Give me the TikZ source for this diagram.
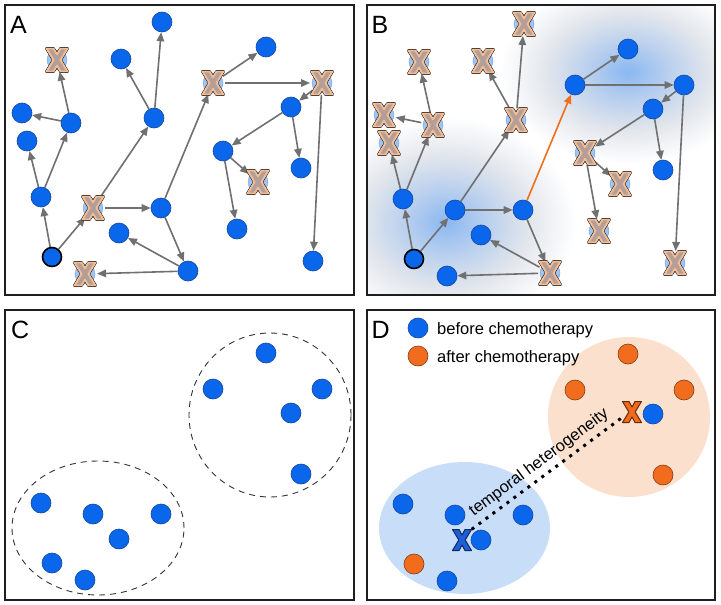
\documentclass[tikz,border=0pt]{standalone}
\usepackage{fontspec}
\setmainfont{Liberation Sans}
\usetikzlibrary{arrows.meta,calc}

\definecolor{nodeblue}{RGB}{10,102,235}
\definecolor{nodeedge}{RGB}{20,70,160}
\definecolor{xcirc}{RGB}{160,196,242}
\definecolor{xcircedge}{RGB}{120,160,220}
\definecolor{xmauve}{RGB}{180,158,152}
\definecolor{xpeach}{RGB}{242,188,148}
\definecolor{edgegray}{RGB}{112,112,112}
\definecolor{arrorange}{RGB}{240,110,30}
\definecolor{dotorange}{RGB}{242,108,30}
\definecolor{dotorangeedge}{RGB}{130,60,20}
\definecolor{ellblue}{RGB}{200,221,248}
\definecolor{ellorange}{RGB}{251,225,205}
\definecolor{glowA}{RGB}{138,184,242}
\definecolor{glowB}{RGB}{186,208,238}
\definecolor{glowC}{RGB}{226,230,236}
\definecolor{framecol}{RGB}{30,30,30}
\definecolor{bxfill}{RGB}{30,95,214}
\definecolor{bxedge}{RGB}{13,42,102}
\definecolor{oxfill}{RGB}{238,106,28}
\definecolor{oxedge}{RGB}{107,42,5}

\pgfdeclareradialshading{glow}{\pgfpoint{0bp}{0bp}}{color(0bp)=(glowA); color(8bp)=(glowB); color(16bp)=(glowC); color(25bp)=(white); color(50bp)=(white)}

\tikzset{
  xglyph/.pic={
    \path[draw=black, line width=2.8pt, line join=round]
      (-10.5,-11.5)--(-3.5,-11.5)--(0,-5.75)--(3.5,-11.5)--(10.5,-11.5)--(3.5,0)--(10.5,11.5)--(3.5,11.5)--(0,5.75)--(-3.5,11.5)--(-10.5,11.5)--(-3.5,0)--cycle;
    \path[fill=xmauve, draw=xpeach, line width=1.9pt, line join=round]
      (-10.5,-11.5)--(-3.5,-11.5)--(0,-5.75)--(3.5,-11.5)--(10.5,-11.5)--(3.5,0)--(10.5,11.5)--(3.5,11.5)--(0,5.75)--(-3.5,11.5)--(-10.5,11.5)--(-3.5,0)--cycle;
  },
  bluex/.pic={
    \path[fill=bxfill, draw=bxedge, line width=1pt, line join=round]
      (-9.5,-10.5)--(-3,-10.5)--(0,-5)--(3,-10.5)--(9.5,-10.5)--(3.2,0)--(9.5,10.5)--(3,10.5)--(0,5)--(-3,10.5)--(-9.5,10.5)--(-3.2,0)--cycle;
  },
  orangex/.pic={
    \path[fill=oxfill, draw=oxedge, line width=1pt, line join=round]
      (-9.5,-10.5)--(-3,-10.5)--(0,-5)--(3,-10.5)--(9.5,-10.5)--(3.2,0)--(9.5,10.5)--(3,10.5)--(0,5)--(-3,10.5)--(-9.5,10.5)--(-3.2,0)--cycle;
  }
}

\begin{document}
\begin{tikzpicture}[x=1pt, y=-1pt,
  bn/.style={circle, fill=nodeblue, draw=nodeedge, line width=0.6pt, minimum size=20pt, inner sep=0pt},
  rn/.style={bn, draw=black, line width=1.6pt, minimum size=19pt},
  xn/.style={circle, fill=xcirc, draw=xcircedge, line width=0.4pt, minimum size=20pt, inner sep=0pt, outer sep=2pt},
  onode/.style={bn, fill=dotorange, draw=dotorangeedge},
  arr/.style={draw=edgegray, line width=1.6pt, -{Triangle[length=9pt,width=7.5pt]}},
  frm/.style={draw=framecol, line width=1.7pt},
  plabel/.style={font=\fontsize{25}{30}\selectfont, inner sep=0pt, anchor=base west},
  legtext/.style={font=\fontsize{16.5}{20}\selectfont, inner sep=0pt, anchor=base west},
  dashell/.style={draw=black!80, line width=0.9pt, dash pattern=on 6pt off 5pt}
]
\fill[white] (0,0) rectangle (721,605);
\useasboundingbox (0,0) rectangle (721,605);

% ---------------- Panel A ----------------
\begin{scope}
\foreach \n/\x/\y/\s in {1/162/22/bn, 2/57/60/xn, 3/121/59/bn, 4/266/47/bn, 5/213/83/xn, 6/322/83/xn, 7/291/107/bn, 8/22/113/bn, 9/71/123/bn, 10/154/118/bn, 11/27/141/bn, 12/223/151/bn, 13/301/168/bn, 14/258/182/xn, 15/41/197/bn, 16/93/208/xn, 17/161/208/bn, 18/119/233/bn, 19/237/229/bn, 20/52/257/rn, 21/188/271/bn, 22/85/274/xn, 23/313/261/bn}
  \node[\s] (a\n) at (\x,\y) {};
\end{scope}
\foreach \s/\t in {20/15,20/16,15/11,15/9,9/8,9/2,16/10,16/17,10/1,10/3,17/5,17/21,21/18,21/22,5/4,5/6,6/7,6/23,7/12,7/13,12/14,12/19}
  \draw[arr] (a\s) -- (a\t);
\foreach \n in {2,5,6,14,16,22}
  \pic at (a\n) {xglyph};
\draw[frm] (5,5) rectangle (354,295);
\node[plabel] (labA) at (10,33) {A};

% ---------------- Panel B ----------------
\begin{scope}
\clip (367,5) rectangle (715,295);
\shade[shading=glow] (446,222) ellipse [x radius=130pt, y radius=105pt];
\shade[shading=glow] (628,72) ellipse [x radius=128pt, y radius=92pt];
\end{scope}
\begin{scope}[shift={(362,2)}]
\foreach \n/\x/\y/\s in {1/162/22/xn, 2/57/60/xn, 3/121/59/xn, 4/266/47/bn, 5/213/83/bn, 6/322/83/bn, 7/291/107/bn, 8/22/113/xn, 9/71/123/xn, 10/154/118/xn, 11/27/141/xn, 12/223/151/xn, 13/301/168/bn, 14/258/182/xn, 15/41/197/bn, 16/93/208/bn, 17/161/208/bn, 18/119/233/bn, 19/237/229/xn, 20/52/257/rn, 21/188/271/xn, 22/85/274/bn, 23/313/261/xn}
  \node[\s] (b\n) at (\x,\y) {};
\end{scope}
\foreach \s/\t in {20/15,20/16,15/11,15/9,9/8,9/2,16/10,16/17,10/1,10/3,17/21,21/18,21/22,5/4,5/6,6/7,6/23,7/12,7/13,12/14,12/19}
  \draw[arr] (b\s) -- (b\t);
\draw[arr, draw=arrorange, line width=1.6pt] (b17) -- (b5);
\foreach \n in {1,2,3,8,9,10,11,12,14,19,21,23}
  \pic at (b\n) {xglyph};
\draw[frm] (367,5) rectangle (715,295);
\node[plabel] (labB) at (371.5,33) {B};

% ---------------- Panel C ----------------
\draw[dashell] (270,415) ellipse [x radius=81pt, y radius=82pt];
\draw[dashell] (98,528) ellipse [x radius=86pt, y radius=67pt];
\begin{scope}[shift={(0,306)}]
\foreach \n/\x/\y in {4/266/47, 5/213/83, 6/322/83, 7/291/107, 13/301/168, 15/41/197, 16/93/208, 17/161/208, 18/119/233, 20/52/257, 22/85/274}
  \node[bn] (c\n) at (\x,\y) {};
\end{scope}
\draw[frm] (5,310) rectangle (354,600);
\node[plabel] (labC) at (11,338) {C};

% ---------------- Panel D ----------------
\fill[ellorange] (629,417) ellipse [x radius=81pt, y radius=80pt];
\fill[ellblue] (464.5,528) ellipse [x radius=85.5pt, y radius=66pt];
\node[inner sep=0pt, minimum width=19pt, minimum height=21pt] (dbx) at (462,540) {};
\node[inner sep=0pt, minimum width=19pt, minimum height=21pt] (dox) at (632,412) {};
\draw[black, line width=3pt, dash pattern=on 3pt off 5.7pt] (dbx.north east) -- node[sloped, above=4pt, pos=0.5, font=\fontsize{16.5}{20}\selectfont, inner sep=0pt] (tlabel) {temporal heterogeneity} ($(dox.west)!0.5!(dox.south west)$);
\begin{scope}[shift={(362,307)}]
\foreach \n/\x/\y/\s in {4/266/47/onode, 5/213/83/onode, 6/322/83/onode, 13/301/168/onode, 20/52/257/onode, 7/291/107/bn, 15/41/197/bn, 16/93/208/bn, 17/161/208/bn, 18/119/233/bn, 22/85/274/bn}
  \node[\s] (d\n) at (\x,\y) {};
\end{scope}
\pic at (dbx) {bluex};
\pic at (dox) {orangex};
\node[bn] (legb) at (418,328) {};
\node[onode] (lego) at (418,356) {};
\node[legtext] (legbt) at (437,334.5) {before chemotherapy};
\node[legtext] (legot) at (437,362) {after chemotherapy};
\draw[frm] (367,310) rectangle (715,600);
\node[plabel] (labD) at (371.5,338) {D};
\end{tikzpicture}
\end{document}
